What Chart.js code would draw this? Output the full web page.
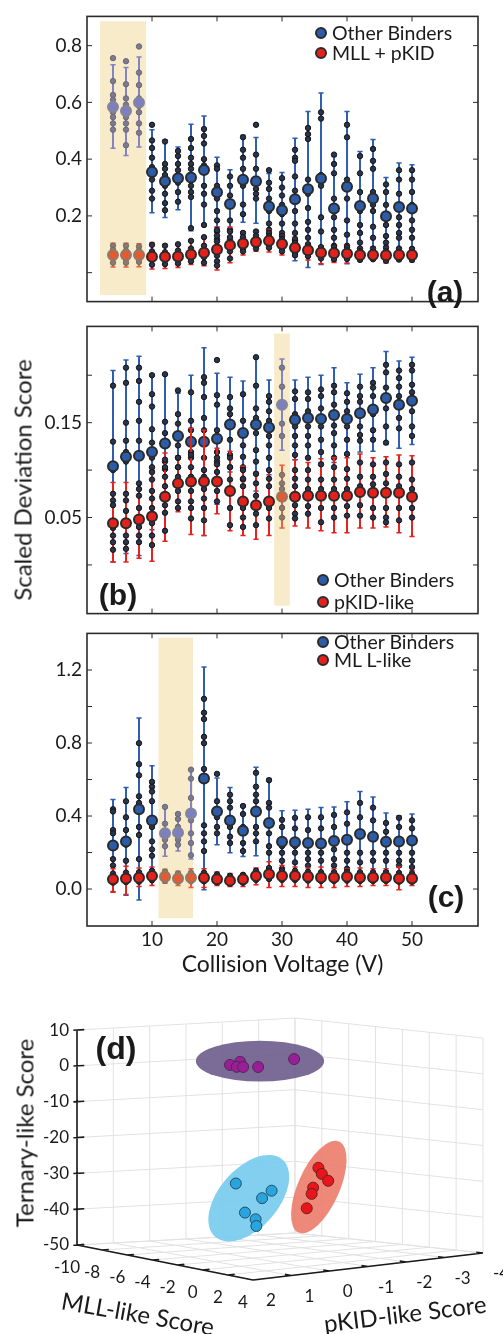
<!DOCTYPE html>
<html>
<head>
<meta charset="utf-8">
<title>Scaled deviation scores</title>
<script src="https://cdn.jsdelivr.net/npm/chart.js@4.4.0/dist/chart.umd.min.js"></script>
<style>
  body { margin: 0; background: #fff; }
  #fig { position: relative; width: 503px; height: 1334px; font-family: Lato, sans-serif; color: #1a1a1a; }
  .box { position: absolute; left: 0; width: 503px; }
  .lbl { position: absolute; white-space: nowrap; transform: translate(-50%, -50%); }
  .rot { transform: translate(-50%, -50%) rotate(-90deg); }
  .tag { font-family: "Liberation Sans", Arial, sans-serif; font-weight: bold; font-size: 30px; }
  .title { font-size: 24px; }
  .legend { position: absolute; font-size: 19.5px; line-height: 20px; }
  .legend div { display: flex; align-items: center; }
  .dot { display: inline-block; width: 8px; height: 8px; border-radius: 50%; border: 2px solid #2b2b2b; margin-right: 5px; }
</style>
</head>
<body>
<div id="fig">
  <div class="box" style="top:0;height:318px"><canvas id="panelA"></canvas></div>
  <div class="box" style="top:310px;height:320px"><canvas id="panelB"></canvas></div>
  <div class="box" style="top:617px;height:365px"><canvas id="panelC"></canvas></div>
  <div class="box" style="top:990px;height:344px"><canvas id="panelD"></canvas></div>

  <div class="lbl rot title" style="left:22px;top:480px">Scaled Deviation Score</div>
  <div class="lbl tag" style="left:445px;top:292px">(a)</div>
  <div class="lbl tag" style="left:118px;top:595px">(b)</div>
  <div class="lbl tag" style="left:446px;top:897px">(c)</div>
  <div class="lbl tag" style="left:116px;top:1048px;font-size:32px">(d)</div>

  <div class="legend" style="left:315px;top:23px">
    <div><span class="dot" style="background:#2c5ba8"></span>Other Binders</div>
    <div><span class="dot" style="background:#e3211c"></span>MLL + pKID</div>
  </div>
  <div class="legend" style="left:317px;top:569px;line-height:22px">
    <div><span class="dot" style="background:#2c5ba8"></span>Other Binders</div>
    <div><span class="dot" style="background:#e3211c"></span>pKID-like</div>
  </div>
  <div class="legend" style="left:317px;top:633px;line-height:18px">
    <div><span class="dot" style="background:#2c5ba8"></span>Other Binders</div>
    <div><span class="dot" style="background:#e3211c"></span>ML L-like</div>
  </div>

  <div class="lbl rot title" style="left:24px;top:1133px">Ternary-like Score</div>
  <div class="lbl title" style="left:138px;top:1313px;transform:translate(-50%,-50%) rotate(10deg)">MLL-like Score</div>
  <div class="lbl title" style="left:405px;top:1313px;transform:translate(-50%,-50%) rotate(-7deg)">pKID-like Score</div>
</div>

<script>
// collision voltages (V) and axis ticks
const voltages = [4, 6, 8, 10, 12, 14, 16, 18, 20, 22, 24, 26, 28, 30, 32, 34, 36, 38, 40, 42, 44, 46, 48, 50];
const xTicks = [10, 20, 30, 40, 50];

// panel (a): other binders vs MLL + pKID
const aTickValues = [0, 0.2, 0.4, 0.6, 0.8];
const aTickLabels = ['', '0.2', '0.4', '0.6', '0.8'];
const aOtherMean = [0.584, 0.570, 0.600, 0.355, 0.322, 0.333, 0.335, 0.362, 0.283, 0.242, 0.327, 0.322, 0.233, 0.220, 0.259, 0.294, 0.332, 0.226, 0.303, 0.235, 0.261, 0.199, 0.231, 0.226];
const aOtherLow = [0.438, 0.413, 0.443, 0.211, 0.194, 0.222, 0.148, 0.170, 0.160, 0.121, 0.178, 0.174, 0.117, 0.090, 0.042, 0.018, 0.029, 0.040, 0.031, 0.048, 0.056, 0.040, 0.070, 0.056];
const aOtherHigh = [0.733, 0.723, 0.760, 0.504, 0.468, 0.443, 0.523, 0.552, 0.407, 0.363, 0.484, 0.476, 0.349, 0.353, 0.474, 0.568, 0.633, 0.409, 0.568, 0.427, 0.469, 0.335, 0.386, 0.380];
const aOtherPoints = [
  [0.756, 0.675, 0.626, 0.609, 0.592, 0.565, 0.548, 0.526, 0.504],
  [0.745, 0.664, 0.614, 0.592, 0.548, 0.526, 0.504, 0.449],
  [0.797, 0.705, 0.661, 0.614, 0.587, 0.565, 0.526, 0.493],
  [0.521, 0.466, 0.439, 0.405, 0.372, 0.350, 0.328, 0.289, 0.261],
  [0.462, 0.383, 0.366, 0.344, 0.306, 0.278, 0.245, 0.220],
  [0.429, 0.411, 0.383, 0.361, 0.317, 0.284, 0.250],
  [0.471, 0.439, 0.405, 0.383, 0.366, 0.306, 0.284, 0.267, 0.157],
  [0.506, 0.482, 0.455, 0.400, 0.378, 0.306, 0.278, 0.240, 0.168],
  [0.378, 0.366, 0.306, 0.261, 0.217, 0.184, 0.145, 0.117],
  [0.339, 0.306, 0.272, 0.239, 0.184, 0.151, 0.117],
  [0.477, 0.433, 0.405, 0.366, 0.306, 0.240, 0.206],
  [0.521, 0.416, 0.366, 0.328, 0.295, 0.278, 0.261],
  [0.361, 0.317, 0.295, 0.261, 0.217, 0.173, 0.151, 0.123],
  [0.333, 0.300, 0.272, 0.239, 0.206, 0.173, 0.140, 0.106],
  [0.433, 0.405, 0.394, 0.339, 0.289, 0.217, 0.173, 0.140, 0.112],
  [0.510, 0.488, 0.471, 0.328, 0.278, 0.228, 0.179, 0.151, 0.123],
  [0.565, 0.543, 0.344, 0.306, 0.195, 0.145],
  [0.416, 0.383, 0.350, 0.261, 0.195, 0.151, 0.123, 0.095],
  [0.521, 0.477, 0.328, 0.306, 0.261, 0.184, 0.134, 0.095],
  [0.411, 0.350, 0.284, 0.239, 0.217, 0.168, 0.140, 0.106],
  [0.436, 0.394, 0.366, 0.284, 0.239, 0.217, 0.162, 0.123],
  [0.311, 0.284, 0.239, 0.195, 0.168, 0.129, 0.106],
  [0.361, 0.328, 0.278, 0.239, 0.195, 0.168, 0.140, 0.123],
  [0.361, 0.328, 0.284, 0.239, 0.184, 0.151, 0.123]
];
const aMllMean = [0.062, 0.062, 0.062, 0.056, 0.056, 0.057, 0.064, 0.070, 0.082, 0.097, 0.103, 0.108, 0.112, 0.101, 0.088, 0.079, 0.070, 0.068, 0.067, 0.062, 0.062, 0.061, 0.062, 0.062];
const aMllLow = [0.020, 0.020, 0.021, 0.013, 0.015, 0.018, 0.029, 0.024, 0.009, 0.035, 0.062, 0.075, 0.073, 0.062, 0.056, 0.045, 0.031, 0.036, 0.034, 0.042, 0.045, 0.034, 0.042, 0.038];
const aMllHigh = [0.104, 0.104, 0.102, 0.106, 0.100, 0.102, 0.115, 0.126, 0.161, 0.161, 0.145, 0.149, 0.149, 0.138, 0.126, 0.104, 0.093, 0.098, 0.098, 0.087, 0.091, 0.095, 0.087, 0.087];
const aMllPoints = [
  [0.095, 0.080, 0.050, 0.035], [0.095, 0.078, 0.048, 0.035], [0.092, 0.078, 0.050, 0.038],
  [0.098, 0.075, 0.045, 0.028], [0.095, 0.072, 0.045, 0.030], [0.100, 0.078, 0.046, 0.032],
  [0.112, 0.085, 0.050, 0.040], [0.125, 0.095, 0.055, 0.035], [0.150, 0.130, 0.110, 0.060, 0.040, 0.025],
  [0.145, 0.125, 0.075, 0.050], [0.140, 0.125, 0.085, 0.075], [0.145, 0.130, 0.095, 0.085],
  [0.140, 0.128, 0.098, 0.088], [0.130, 0.118, 0.085, 0.075], [0.118, 0.105, 0.072, 0.062],
  [0.100, 0.090, 0.068, 0.058], [0.090, 0.080, 0.060, 0.050], [0.092, 0.080, 0.058, 0.048],
  [0.090, 0.078, 0.058, 0.048], [0.085, 0.075, 0.052, 0.045], [0.085, 0.073, 0.052, 0.047],
  [0.088, 0.075, 0.050, 0.042], [0.085, 0.073, 0.052, 0.046], [0.084, 0.072, 0.053, 0.045]
];

// panel (b): other binders vs pKID-like
const bTickValues = [0, 0.05, 0.1, 0.15, 0.2];
const bTickLabels = ['', '0.05', '', '0.15', ''];
const bOtherMean = [0.104, 0.114, 0.115, 0.119, 0.128, 0.136, 0.130, 0.130, 0.133, 0.148, 0.139, 0.148, 0.145, 0.169, 0.153, 0.155, 0.154, 0.158, 0.154, 0.160, 0.164, 0.176, 0.169, 0.173];
const bOtherLow = [0.003, 0.012, 0.010, 0.037, 0.055, 0.091, 0.060, 0.031, 0.064, 0.098, 0.084, 0.078, 0.095, 0.121, 0.111, 0.112, 0.108, 0.108, 0.116, 0.119, 0.120, 0.127, 0.123, 0.127];
const bOtherHigh = [0.205, 0.216, 0.220, 0.201, 0.201, 0.181, 0.200, 0.229, 0.202, 0.198, 0.194, 0.218, 0.195, 0.217, 0.195, 0.198, 0.200, 0.208, 0.192, 0.201, 0.208, 0.225, 0.215, 0.219];
const bOtherPoints = [
  [0.189, 0.130, 0.103, 0.100],
  [0.208, 0.192, 0.150, 0.131, 0.119, 0.109],
  [0.208, 0.194, 0.172, 0.152, 0.131, 0.113],
  [0.200, 0.180, 0.167, 0.143, 0.129, 0.113, 0.103],
  [0.201, 0.151, 0.139, 0.129, 0.109, 0.101],
  [0.184, 0.159, 0.149, 0.126, 0.113, 0.103],
  [0.182, 0.152, 0.142, 0.132, 0.119, 0.113],
  [0.198, 0.192, 0.177, 0.155, 0.142, 0.113],
  [0.216, 0.179, 0.169, 0.142, 0.119, 0.109],
  [0.177, 0.165, 0.159, 0.146, 0.132, 0.116, 0.103],
  [0.180, 0.152, 0.126, 0.114, 0.103, 0.090],
  [0.219, 0.189, 0.165, 0.155, 0.139, 0.121, 0.109],
  [0.178, 0.172, 0.162, 0.152, 0.136, 0.126, 0.113],
  [0.208, 0.188, 0.149, 0.136],
  [0.183, 0.175, 0.159, 0.146, 0.136, 0.126, 0.116],
  [0.182, 0.175, 0.162, 0.146, 0.136, 0.126, 0.113],
  [0.185, 0.178, 0.165, 0.146, 0.132, 0.119],
  [0.189, 0.182, 0.169, 0.147, 0.139, 0.126, 0.113],
  [0.181, 0.172, 0.162, 0.146, 0.132, 0.117],
  [0.188, 0.178, 0.172, 0.146, 0.137, 0.131],
  [0.192, 0.187, 0.178, 0.159, 0.142, 0.132],
  [0.211, 0.203, 0.187, 0.165, 0.146, 0.129],
  [0.205, 0.197, 0.188, 0.178, 0.155, 0.144],
  [0.211, 0.205, 0.190, 0.182, 0.162, 0.146, 0.136]
];
const bPkidMean = [0.044, 0.044, 0.048, 0.051, 0.072, 0.086, 0.088, 0.088, 0.088, 0.078, 0.067, 0.063, 0.067, 0.072, 0.072, 0.073, 0.073, 0.073, 0.073, 0.077, 0.076, 0.076, 0.076, 0.072];
const bPkidLow = [0.003, 0.003, 0.007, 0.004, 0.025, 0.056, 0.032, 0.031, 0.054, 0.036, 0.031, 0.027, 0.031, 0.039, 0.041, 0.039, 0.036, 0.034, 0.034, 0.039, 0.039, 0.040, 0.034, 0.030];
const bPkidHigh = [0.087, 0.087, 0.087, 0.100, 0.118, 0.115, 0.144, 0.142, 0.123, 0.120, 0.104, 0.098, 0.100, 0.105, 0.111, 0.108, 0.112, 0.113, 0.113, 0.117, 0.113, 0.114, 0.116, 0.115];
const bPkidPoints = [
  [0.075, 0.068, 0.063, 0.039, 0.031, 0.024, 0.016],
  [0.075, 0.068, 0.057, 0.042, 0.031, 0.024, 0.017],
  [0.086, 0.080, 0.073, 0.060, 0.040, 0.031, 0.024],
  [0.098, 0.090, 0.078, 0.070, 0.060, 0.044, 0.031, 0.021],
  [0.111, 0.103, 0.093, 0.083, 0.063, 0.055, 0.036],
  [0.113, 0.103, 0.093, 0.078, 0.067, 0.060],
  [0.116, 0.103, 0.093, 0.078, 0.067, 0.060, 0.049],
  [0.100, 0.093, 0.080, 0.070, 0.060, 0.047],
  [0.113, 0.106, 0.098, 0.078, 0.067],
  [0.113, 0.103, 0.090, 0.060, 0.042],
  [0.100, 0.091, 0.083, 0.060, 0.050, 0.040],
  [0.096, 0.086, 0.073, 0.054, 0.042],
  [0.100, 0.091, 0.083, 0.060, 0.049],
  [0.095, 0.086, 0.080, 0.060, 0.050],
  [0.100, 0.091, 0.083, 0.063, 0.054, 0.049],
  [0.100, 0.090, 0.080, 0.062, 0.054],
  [0.106, 0.090, 0.080, 0.060, 0.045],
  [0.103, 0.090, 0.080, 0.060, 0.050],
  [0.101, 0.091, 0.080, 0.062, 0.052],
  [0.108, 0.093, 0.083, 0.063, 0.052],
  [0.106, 0.093, 0.085, 0.060, 0.050],
  [0.108, 0.096, 0.086, 0.060, 0.050, 0.045],
  [0.106, 0.093, 0.083, 0.060, 0.047],
  [0.108, 0.090, 0.080, 0.060, 0.050]
];

// panel (c): other binders vs MLL-like
const cTickValues = [0, 0.2, 0.4, 0.6, 0.8, 1.0, 1.2];
const cTickLabels = ['0.0', '', '0.4', '', '0.8', '', '1.2'];
const cOtherMean = [0.238, 0.261, 0.437, 0.376, 0.305, 0.309, 0.414, 0.605, 0.425, 0.376, 0.319, 0.425, 0.362, 0.259, 0.256, 0.252, 0.249, 0.263, 0.270, 0.302, 0.287, 0.259, 0.261, 0.266];
const cOtherLow = [-0.014, -0.034, -0.060, 0.077, 0.180, 0.208, 0.164, -0.004, 0.243, 0.199, 0.178, 0.182, 0.119, 0.090, 0.080, 0.070, 0.055, 0.076, 0.062, 0.070, 0.070, 0.100, 0.120, 0.120];
const cOtherHigh = [0.490, 0.556, 0.937, 0.675, 0.455, 0.416, 0.658, 1.217, 0.608, 0.556, 0.460, 0.667, 0.605, 0.429, 0.432, 0.437, 0.446, 0.450, 0.478, 0.534, 0.504, 0.416, 0.402, 0.411];
const cOtherPoints = [
  [0.437, 0.425, 0.323, 0.305, 0.164, 0.129],
  [0.481, 0.393, 0.323, 0.243, 0.155],
  [0.799, 0.684, 0.623, 0.508, 0.472, 0.340, 0.296, 0.164],
  [0.587, 0.561, 0.534, 0.481, 0.340, 0.261, 0.217, 0.182],
  [0.450, 0.358, 0.270, 0.235],
  [0.411, 0.384, 0.340, 0.270, 0.243],
  [0.654, 0.605, 0.499, 0.376, 0.305, 0.252, 0.185],
  [1.042, 0.966, 0.931, 0.834, 0.799, 0.658, 0.349, 0.305, 0.261, 0.208],
  [0.631, 0.481, 0.393, 0.340, 0.305],
  [0.517, 0.481, 0.446, 0.340, 0.287, 0.252],
  [0.455, 0.411, 0.340, 0.252, 0.208],
  [0.637, 0.561, 0.517, 0.481, 0.340, 0.305, 0.261],
  [0.596, 0.472, 0.446, 0.305, 0.235, 0.199],
  [0.379, 0.340, 0.235, 0.199, 0.155, 0.111],
  [0.390, 0.332, 0.235, 0.199, 0.146],
  [0.393, 0.323, 0.199, 0.164, 0.129],
  [0.393, 0.332, 0.199, 0.155],
  [0.406, 0.340, 0.217, 0.164, 0.129],
  [0.420, 0.358, 0.199, 0.155, 0.111],
  [0.472, 0.393, 0.199, 0.146],
  [0.446, 0.376, 0.199, 0.155],
  [0.362, 0.314, 0.199, 0.155],
  [0.390, 0.340, 0.199, 0.155, 0.129],
  [0.376, 0.332, 0.199, 0.155, 0.120]
];
const cMllMean = [0.053, 0.058, 0.062, 0.071, 0.067, 0.058, 0.062, 0.062, 0.053, 0.046, 0.053, 0.071, 0.081, 0.071, 0.071, 0.067, 0.063, 0.063, 0.067, 0.063, 0.063, 0.063, 0.058, 0.058];
const cMllLow = [-0.018, -0.030, 0.014, 0.019, 0.032, 0.019, 0.009, 0.009, 0.019, 0.014, 0.014, 0.023, 0.009, 0.014, 0.014, 0.009, 0.009, 0.009, 0.014, 0.014, 0.019, 0.019, -0.004, 0.019];
const cMllHigh = [0.111, 0.125, 0.115, 0.120, 0.108, 0.097, 0.111, 0.111, 0.093, 0.085, 0.085, 0.115, 0.150, 0.129, 0.120, 0.115, 0.120, 0.111, 0.111, 0.115, 0.111, 0.111, 0.120, 0.102];
const cMllPoints = [
  [0.085, 0.070, 0.035], [0.090, 0.072, 0.038], [0.092, 0.078, 0.040], [0.100, 0.085, 0.048],
  [0.095, 0.080, 0.045], [0.085, 0.072, 0.040], [0.090, 0.075, 0.042], [0.090, 0.076, 0.042],
  [0.080, 0.068, 0.036], [0.072, 0.060, 0.030], [0.078, 0.066, 0.034], [0.100, 0.085, 0.050],
  [0.115, 0.098, 0.055], [0.102, 0.085, 0.050], [0.100, 0.084, 0.050], [0.095, 0.080, 0.046],
  [0.092, 0.078, 0.044], [0.092, 0.078, 0.044], [0.095, 0.080, 0.046], [0.092, 0.077, 0.044],
  [0.092, 0.077, 0.044], [0.092, 0.077, 0.044], [0.088, 0.072, 0.040], [0.086, 0.072, 0.040]
];

// highlighted voltage windows [xFrom, xTo, yFrom, yTo]
const aHighlight = [2.0, 9.1, -0.079, 0.886];
const bHighlight = [28.8, 31.2, -0.043, 0.244];
const cHighlight = [11.0, 16.3, -0.160, 1.378];

// panel (d): 3D score space
const mllTicks = [-10, -8, -6, -4, -2, 0, 2, 4];
const pkidTicks = [2, 1, 0, -1, -2, -3, -4];
const ternTicks = [-50, -40, -30, -20, -10, 0, 10];
const ternaryMll = [-2, -2, -2, -2, -2, -2];
const ternaryPkid = [0.60, 0.33, 0.42, 0.25, -0.15, -1.11];
const ternaryTern = [4.5, 5.1, 3.8, 3.6, 3.2, 4.5];
const mllLikeMll = [2, 2, 2, 2, 2, 2];
const mllLikePkid = [1.79, 0.85, 1.10, 1.55, 1.27, 1.25];
const mllLikeTern = [-24.7, -27.8, -29.6, -33.1, -35.3, -37.2];
const pkidLikeMll = [-1, -1, -1, -1, -1, -1];
const pkidLikePkid = [-1.41, -1.50, -1.67, -1.27, -1.23, -1.10];
const pkidLikeTern = [-25.6, -27.4, -29.5, -31.0, -32.7, -36.6];
// cluster regions: centre (mll, pkid, ternary), semi-axes, tilt in degrees
const clusterCentre = [[-2, -0.20, 4.8], [2, 1.45, -29.2], [-1, -1.42, -31.0]];
const clusterAxes = [[17.9, 5.7], [14.3, 8.3], [13.9, 5.8]];
const clusterTilt = [0, 49, 66];

Chart.defaults.font.family = 'Lato, sans-serif';
Chart.defaults.color = '#1a1a1a';
Chart.defaults.animation = false;

// normal and "inside the shaded window" colours
const BLUE = { line: '#2f5db0', mean: '#2c5ba8', edge: '#2a2a2a', dot: '#2b3449', dotEdge: '#121418' };
const BLUE_FADED = { line: '#8384c4', mean: '#7c80c0', edge: '#85849a', dot: '#7d7a8e', dotEdge: '#6b6878' };
const RED = { line: '#e4231f', mean: '#e3211c', edge: '#2a2a2a', dot: '#2b3449', dotEdge: '#121418' };
const RED_FADED = { line: '#e9603a', mean: '#e65a30', edge: '#8a7a70', dot: '#8a7a6e', dotEdge: '#766a60' };

function errorBars(low, high) {
  let pts = [];
  voltages.forEach((v, i) => {
    pts.push({ x: v, y: low[i] }, { x: v, y: high[i] }, { x: v, y: null });
  });
  return pts;
}

function spread(points) {
  return voltages.flatMap((v, i) => points[i].map(y => ({ x: v, y })));
}

function means(values) {
  return voltages.map((v, i) => ({ x: v, y: values[i] }));
}

function series(mean, low, high, points, pal, faded, win, order) {
  let inside = x => x >= win[0] && x <= win[1];
  let pick = key => c => (c.raw && inside(c.raw.x) ? faded : pal)[key];
  let bars = errorBars(low, high);
  return [
    {
      data: bars, showLine: true, spanGaps: false,
      borderColor: pal.line, borderWidth: 2,
      segment: { borderColor: c => (inside(bars[c.p0DataIndex].x) ? faded : pal).line },
      pointStyle: 'line', pointRadius: 2.6, pointBorderColor: pick('line'), pointBorderWidth: 1.5,
      order: order + 2
    },
    {
      data: spread(points), pointRadius: 2.7,
      pointBackgroundColor: pick('dot'), pointBorderColor: pick('dotEdge'), pointBorderWidth: 1,
      order: order + 1
    },
    {
      data: means(mean), pointRadius: 5,
      pointBackgroundColor: pick('mean'), pointBorderColor: pick('edge'), pointBorderWidth: 2,
      order: order
    }
  ];
}

// shaded window behind the data, frame and inward ticks on top
const framePlugin = {
  id: 'frame',
  beforeDatasetsDraw(chart, args, opts) {
    let { ctx, scales: { x, y } } = chart;
    let [x0, x1, y0, y1] = opts.shade;
    let left = x.getPixelForValue(x0), top = y.getPixelForValue(y1);
    ctx.save();
    ctx.fillStyle = '#f7ebca';
    ctx.fillRect(left, top, x.getPixelForValue(x1) - left, y.getPixelForValue(y0) - top);
    ctx.restore();
  },
  afterDatasetsDraw(chart) {
    let { ctx, chartArea: a, scales: { x, y } } = chart;
    ctx.save();
    ctx.strokeStyle = '#2b2b2b';
    ctx.lineWidth = 1;
    ctx.beginPath();
    x.ticks.forEach(t => {
      let p = x.getPixelForValue(t.value);
      ctx.moveTo(p, a.top); ctx.lineTo(p, a.top + 5);
      ctx.moveTo(p, a.bottom); ctx.lineTo(p, a.bottom - 5);
    });
    y.ticks.forEach(t => {
      let p = y.getPixelForValue(t.value);
      ctx.moveTo(a.left, p); ctx.lineTo(a.left + 5, p);
      ctx.moveTo(a.right, p); ctx.lineTo(a.right - 5, p);
    });
    ctx.stroke();
    ctx.lineWidth = 1.6;
    ctx.strokeRect(a.left, a.top, a.width, a.height);
    ctx.restore();
  }
};

function makePanel(id, datasets, yRange, tickValues, tickLabels, shade, padding, showX) {
  return new Chart(document.getElementById(id), {
    type: 'scatter',
    data: { datasets },
    plugins: [framePlugin],
    options: {
      responsive: true,
      maintainAspectRatio: false,
      layout: { padding },
      plugins: { legend: { display: false }, tooltip: { enabled: false }, frame: { shade } },
      scales: {
        x: {
          min: 0, max: 60.15,
          display: showX,
          afterBuildTicks: s => { s.ticks = xTicks.map(v => ({ value: v })); },
          afterFit: s => { s.height = showX ? 56 : 0; },
          grid: { display: false, drawTicks: false },
          border: { display: false },
          ticks: { font: { size: 19 }, padding: 2 },
          title: { display: true, text: 'Collision Voltage (V)', font: { size: 23 }, padding: { top: 0, bottom: 4 } }
        },
        y: {
          min: yRange[0], max: yRange[1],
          afterBuildTicks: s => { s.ticks = tickValues.map(v => ({ value: v })); },
          afterFit: s => { s.width = 87; },
          grid: { display: false, drawTicks: false },
          border: { display: false },
          ticks: { font: { size: 19 }, padding: 5, callback: v => tickLabels[tickValues.indexOf(v)] }
        }
      }
    }
  });
}

makePanel('panelA',
  [...series(aMllMean, aMllLow, aMllHigh, aMllPoints, RED, RED_FADED, aHighlight, 1),
   ...series(aOtherMean, aOtherLow, aOtherHigh, aOtherPoints, BLUE, BLUE_FADED, aHighlight, 4)],
  [-0.102, 0.903], aTickValues, aTickLabels, aHighlight,
  { top: 13, bottom: 2, left: 0, right: 25 }, false);

makePanel('panelB',
  [...series(bPkidMean, bPkidLow, bPkidHigh, bPkidPoints, RED, RED_FADED, bHighlight, 1),
   ...series(bOtherMean, bOtherLow, bOtherHigh, bOtherPoints, BLUE, BLUE_FADED, bHighlight, 4)],
  [-0.0513, 0.2515], bTickValues, bTickLabels, bHighlight,
  { top: 6, bottom: 7, left: 0, right: 25 }, false);

makePanel('panelC',
  [...series(cMllMean, cMllLow, cMllHigh, cMllPoints, RED, RED_FADED, cHighlight, 1),
   ...series(cOtherMean, cOtherLow, cOtherHigh, cOtherPoints, BLUE, BLUE_FADED, cHighlight, 4)],
  [-0.2026, 1.4006], cTickValues, cTickLabels, cHighlight,
  { top: 6, bottom: 0, left: 0, right: 25 }, true);

// oblique view of the (mll, pkid, ternary) box, in ternary units on screen
function project(mll, pkid, tern) {
  let s = (mll - mllTicks[0]) / (mllTicks[mllTicks.length - 1] - mllTicks[0]);
  let t = (pkidTicks[0] - pkid) / (pkidTicks[0] - pkidTicks[pkidTicks.length - 1]);
  return { x: 49.12 * s + 60.84 * t + 3.35 * s * t, y: tern - 9.77 * s + 3.35 * t + 4.19 * s * t };
}

function cluster(mll, pkid, tern) {
  return mll.map((m, i) => project(m, pkid[i], tern[i]));
}

const boxPlugin = {
  id: 'box3d',
  beforeDatasetsDraw(chart) {
    let { ctx, scales: { x, y } } = chart;
    let px = p => [x.getPixelForValue(p.x), y.getPixelForValue(p.y)];
    let seg = (a, b) => {
      let [x1, y1] = px(a), [x2, y2] = px(b);
      ctx.moveTo(x1, y1); ctx.lineTo(x2, y2);
    };
    let m0 = mllTicks[0], m1 = mllTicks[mllTicks.length - 1];
    let p0 = pkidTicks[0], p1 = pkidTicks[pkidTicks.length - 1];
    let z0 = ternTicks[0], z1 = ternTicks[ternTicks.length - 1];
    ctx.save();

    // back walls and floor grid
    ctx.strokeStyle = '#e2e2e2';
    ctx.lineWidth = 1;
    ctx.beginPath();
    pkidTicks.forEach(p => seg(project(m0, p, z0), project(m0, p, z1)));
    ternTicks.forEach(z => seg(project(m0, p0, z), project(m0, p1, z)));
    mllTicks.forEach(m => seg(project(m, p1, z0), project(m, p1, z1)));
    ternTicks.forEach(z => seg(project(m0, p1, z), project(m1, p1, z)));
    mllTicks.forEach(m => seg(project(m, p0, z0), project(m, p1, z0)));
    pkidTicks.forEach(p => seg(project(m0, p, z0), project(m1, p, z0)));
    ctx.stroke();

    // cluster regions
    let unit = x.getPixelForValue(1) - x.getPixelForValue(0);
    let fills = ['rgba(112, 94, 142, 0.92)', 'rgba(120, 203, 238, 0.92)', 'rgba(236, 124, 108, 0.9)'];
    clusterCentre.forEach((c, i) => {
      let [cx, cy] = px(project(c[0], c[1], c[2]));
      ctx.fillStyle = fills[i];
      ctx.beginPath();
      ctx.ellipse(cx, cy, clusterAxes[i][0] * unit, clusterAxes[i][1] * unit, -clusterTilt[i] * Math.PI / 180, 0, Math.PI * 2);
      ctx.fill();
    });

    // axes and ticks
    ctx.strokeStyle = '#1a1a1a';
    ctx.lineWidth = 1.6;
    ctx.beginPath();
    seg(project(m0, p0, z0), project(m0, p0, z1));
    seg(project(m0, p0, z0), project(m1, p0, z0));
    seg(project(m1, p0, z0), project(m1, p1, z0));
    ternTicks.forEach(z => seg(project(m0, p0 + 0.1, z), project(m0, p0 - 0.2, z)));
    mllTicks.forEach(m => seg(project(m, p0, z0), project(m, p0 - 0.18, z0)));
    pkidTicks.forEach(p => seg(project(m1, p, z0), project(m1 - 0.5, p, z0)));
    ctx.stroke();

    ctx.fillStyle = '#1a1a1a';
    ctx.font = '17px Lato, sans-serif';
    ctx.textAlign = 'center';
    ctx.textBaseline = 'middle';
    mllTicks.forEach(m => {
      let [a, b] = px(project(m, p0, z0));
      ctx.fillText(String(m), a - 10, b + 23);
    });
    pkidTicks.forEach(p => {
      let [a, b] = px(project(m1, p, z0));
      ctx.fillText(String(p), a + 18, b + 21);
    });
    ctx.restore();
  }
};

const pointStyle = (fill, edge) => ({ pointRadius: 5.5, pointBackgroundColor: fill, pointBorderColor: edge, pointBorderWidth: 1 });

new Chart(document.getElementById('panelD'), {
  type: 'scatter',
  data: {
    datasets: [
      { data: cluster(ternaryMll, ternaryPkid, ternaryTern), ...pointStyle('#9a1f97', '#4b2a52') },
      { data: cluster(mllLikeMll, mllLikePkid, mllLikeTern), ...pointStyle('#29a4dc', '#1f4f6b') },
      { data: cluster(pkidLikeMll, pkidLikePkid, pkidLikeTern), ...pointStyle('#e8161c', '#6b1f1f') }
    ]
  },
  plugins: [boxPlugin],
  options: {
    responsive: true,
    maintainAspectRatio: false,
    layout: { padding: { top: 20, bottom: 34, left: 0, right: 13 } },
    plugins: { legend: { display: false }, tooltip: { enabled: false } },
    scales: {
      x: { display: false, min: 0, max: 115.27 },
      y: {
        min: -65.35, max: 15.59,
        afterBuildTicks: s => { s.ticks = ternTicks.map(v => ({ value: v })); },
        afterFit: s => { s.width = 77; },
        grid: { display: false, drawTicks: false },
        border: { display: false },
        ticks: { font: { size: 17 }, padding: 8 }
      }
    }
  }
});
</script>
</body>
</html>
